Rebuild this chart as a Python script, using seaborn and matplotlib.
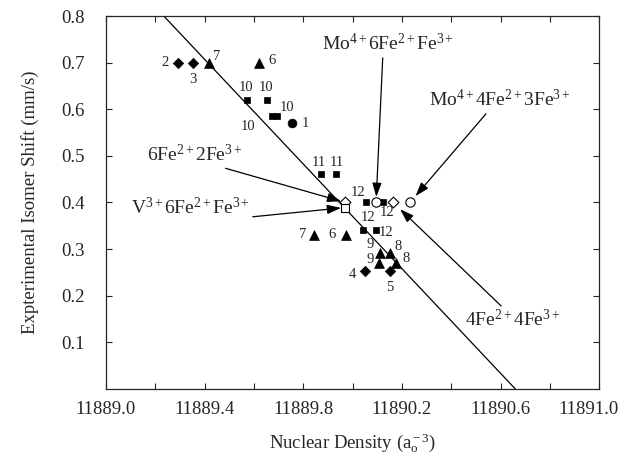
import numpy as np
import pandas as pd
import seaborn as sns
import matplotlib.pyplot as plt
from matplotlib.transforms import ScaledTranslation

# filled points, numbered
diamond_x = [11889.292, 11889.353, 11890.051, 11890.152]
diamond_y = [0.70, 0.70, 0.252, 0.252]
diamond_lbl = ["2", "3", "4", "5"]

triangle_x = [11889.418, 11889.621, 11889.844, 11889.974,
              11890.112, 11890.152, 11890.108, 11890.176]
triangle_y = [0.70, 0.70, 0.331, 0.331, 0.292, 0.292, 0.27, 0.27]
triangle_lbl = ["7", "6", "7", "6", "9", "8", "9", "8"]

square_x = [11889.572, 11889.653, 11889.673, 11889.694, 11889.872,
            11889.933, 11890.055, 11890.124, 11890.043, 11890.095]
square_y = [0.62, 0.62, 0.585, 0.585, 0.462, 0.462, 0.40, 0.40, 0.34, 0.34]
square_lbl = ["10", "10", "10", "10", "11", "11", "12", "12", "12", "12"]

circle_x = [11889.755]
circle_y = [0.57]
circle_lbl = ["1"]

# open points (calculated clusters)
open_names = [r"6Fe$^{2+}$2Fe$^{3+}$",
              r"V$^{3+}$6Fe$^{2+}$Fe$^{3+}$",
              r"Mo$^{4+}$6Fe$^{2+}$Fe$^{3+}$",
              r"4Fe$^{2+}$4Fe$^{3+}$",
              r"Mo$^{4+}$4Fe$^{2+}$3Fe$^{3+}$"]
open_x = [11889.970, 11889.970, 11890.095, 11890.164, 11890.233]
open_y = [0.40, 0.389, 0.40, 0.40, 0.40]
open_marker = ["D", "s", "o", "D", "o"]

# fitted line: x-intercept and slope
line_x0 = 11890.659
line_slope = -0.5616

# layout of the labels (offsets in pixels)
diamond_off = [(-13, 0), (0, -17), (-13, -3), (0, -16)]
triangle_off = [(8, 6), (13, 2), (-12, 0), (-14, 0),
                (-10, 8), (8, 6), (-9, 4), (10, 5)]
square_off = [(-1, 12), (-1, 12), (-24, -10), (10, 9), (-2, 11),
              (1, 11), (-8, 10), (4, -10), (5, 13), (10, -2)]
circle_off = [(13, 0)]
open_text_pos = [(11889.361, 0.503), (11889.341, 0.389), (11890.144, 0.74),
                 (11890.651, 0.148), (11890.598, 0.62)]
open_relpos = [(0.7, 0.0), (1.0, 0.05), (0.46, 0.0), (0.41, 1.0), (0.42, 0.0)]
open_shrink = [3, 3, 4, 7, 6]

sns.set_style("ticks")
plt.rcParams["font.family"] = ["Liberation Serif", "DejaVu Serif"]
plt.rcParams["mathtext.fontset"] = "custom"
plt.rcParams["mathtext.rm"] = "Liberation Serif"
plt.rcParams["mathtext.it"] = "Liberation Serif:italic"

fig = plt.figure(figsize=(6.23, 4.58), dpi=100)
ax = fig.add_axes([0.170, 0.151, 0.792, 0.814])

xs = np.array([11889.0, 11891.0])
sns.lineplot(x=xs, y=line_slope * (xs - line_x0), color="black", lw=0.9, ax=ax)

groups = [
    (diamond_x, diamond_y, diamond_lbl, diamond_off, "D", 28),
    (triangle_x, triangle_y, triangle_lbl, triangle_off, "^", 50),
    (square_x, square_y, square_lbl, square_off, "s", 22),
    (circle_x, circle_y, circle_lbl, circle_off, "o", 40),
]
for gx, gy, glbl, goff, mk, sz in groups:
    df = pd.DataFrame({"x": gx, "y": gy})
    sns.scatterplot(data=df, x="x", y="y", marker=mk, s=sz, color="black",
                    edgecolor="black", linewidth=0.5, ax=ax, zorder=3)
    for xi, yi, t, (dx, dy) in zip(gx, gy, glbl, goff):
        ax.annotate(t, (xi, yi), xytext=(dx, dy), textcoords="offset pixels",
                    ha="center", va="center", fontsize=10.5)

for xi, yi, mk, name, tpos, rp, shr in zip(open_x, open_y, open_marker, open_names,
                                            open_text_pos, open_relpos, open_shrink):
    sns.scatterplot(x=[xi], y=[yi], marker=mk, s=30 if mk != "o" else 45,
                    facecolor="white", edgecolor="black", linewidth=0.8,
                    ax=ax, zorder=4)
    ax.annotate(name, (xi, yi), xytext=tpos, textcoords="data",
                ha="center", va="center", fontsize=14,
                arrowprops=dict(arrowstyle="-|>,head_length=0.6,head_width=0.2",
                                mutation_scale=14, color="black", lw=0.9,
                                relpos=rp, shrinkA=0, shrinkB=shr))

ax.set_xlim(11889.0, 11891.0)
ax.set_ylim(0, 0.8)
xt = np.round(np.arange(11889.0, 11891.01, 0.2), 1)
ax.set_xticks(xt)
ax.set_xticklabels([f"{v:.1f}" if round((v - 11889.0) / 0.2) % 2 == 0 else "" for v in xt])
ax.set_yticks(np.round(np.arange(0.1, 0.81, 0.1), 1))
ax.set_yticklabels([f"{v:.1f}" for v in np.arange(0.1, 0.81, 0.1)])
ax.tick_params(direction="in", top=True, right=True, length=4, width=0.8,
               labelsize=13.5)
ax.tick_params(axis="y", pad=15)
ax.tick_params(axis="x", pad=9)
for sp in ax.spines.values():
    sp.set_linewidth(0.9)

# last x label sits a little to the left so it stays inside the image
last = ax.get_xticklabels()[-1]
last.set_transform(last.get_transform() + ScaledTranslation(-8 / 72, 0, fig.dpi_scale_trans))

ax.set_xlabel(r"Nuclear Density (a$_{\rm o}^{\rm -3}$)", fontsize=13.5)
ax.set_ylabel("Expterimental Isomer Shift (mm/s)", fontsize=13.5)
ax.xaxis.set_label_coords(0.5, -0.115)
ax.yaxis.set_label_coords(-0.136, 0.5)

fig.savefig("out.png", dpi=100)
